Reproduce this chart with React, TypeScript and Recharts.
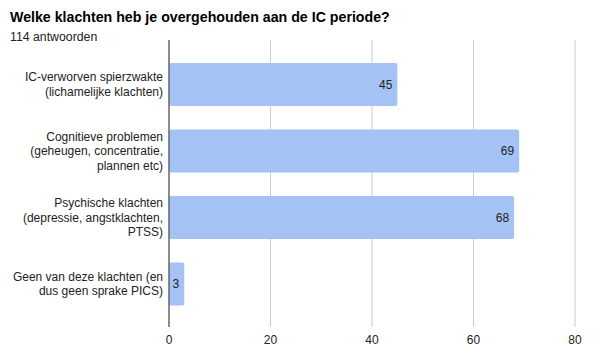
import { Bar, BarChart, CartesianGrid, LabelList, XAxis, YAxis } from "recharts";

const TITLE = "Welke klachten heb je overgehouden aan de IC periode?";
const SUBTITLE = "114 antwoorden";

// line breaks are where the reference wraps the labels
const CATEGORIES = [
  "IC-verworven spierzwakte\n(lichamelijke klachten)",
  "Cognitieve problemen\n(geheugen, concentratie,\nplannen etc)",
  "Psychische klachten\n(depressie, angstklachten,\nPTSS)",
  "Geen van deze klachten (en\ndus geen sprake PICS)",
];
const COUNTS = [45, 69, 68, 3];
const X_TICKS = [0, 20, 40, 60, 80];

const FONT = "'Liberation Sans', Arial, sans-serif";
const BAR_COLOR = "#a4c2f4";
const LINE_HEIGHT = 14.5;

const data = CATEGORIES.map((name, i) => ({ name, value: COUNTS[i] }));

function CategoryTick(props: any) {
  const { x, y, payload } = props;
  const lines = String(payload.value).split("\n");
  const firstDy = -((lines.length - 1) / 2) * LINE_HEIGHT;
  return (
    <text x={x + 2} y={y} textAnchor="end" fill="#222" fontSize={12} fontFamily={FONT}>
      {lines.map((line, i) => (
        <tspan key={i} x={x + 2} dy={i === 0 ? firstDy + 4.3 : LINE_HEIGHT}>
          {line}
        </tspan>
      ))}
    </text>
  );
}

export default function App() {
  return (
    <div
      style={{
        position: "fixed",
        top: 0,
        left: 0,
        width: 600,
        height: 360,
        background: "#fff",
        fontFamily: FONT,
      }}
    >
      <div
        style={{
          position: "absolute",
          left: 10,
          top: 9,
          fontSize: 14.2,
          fontWeight: "bold",
          color: "#000",
          whiteSpace: "nowrap",
        }}
      >
        {TITLE}
      </div>
      <div
        style={{
          position: "absolute",
          left: 10,
          top: 30,
          fontSize: 12.3,
          color: "#222",
          whiteSpace: "nowrap",
        }}
      >
        {SUBTITLE}
      </div>
      <div style={{ position: "absolute", left: 0, top: 0 }}>
        <BarChart
          width={600}
          height={360}
          data={data}
          layout="vertical"
          margin={{ top: 40, right: 25, bottom: 13, left: 0 }}
          barSize={43}
        >
          <CartesianGrid horizontal={false} stroke="#cccccc" />
          <XAxis
            type="number"
            domain={[0, 80]}
            ticks={X_TICKS}
            axisLine={false}
            tickLine={false}
            height={20}
            tick={{ fill: "#222", fontSize: 12, fontFamily: FONT }}
          />
          <YAxis
            type="category"
            dataKey="name"
            width={169}
            axisLine={{ stroke: "#333", strokeWidth: 1 }}
            tickLine={false}
            padding={{ top: 11, bottom: 10 }}
            tick={<CategoryTick />}
            interval={0}
          />
          <Bar dataKey="value" fill={BAR_COLOR} radius={2} isAnimationActive={false}>
            <LabelList
              dataKey="value"
              position="insideRight"
              offset={5}
              fill="#222"
              fontSize={12}
              fontFamily={FONT}
            />
          </Bar>
        </BarChart>
      </div>
    </div>
  );
}
